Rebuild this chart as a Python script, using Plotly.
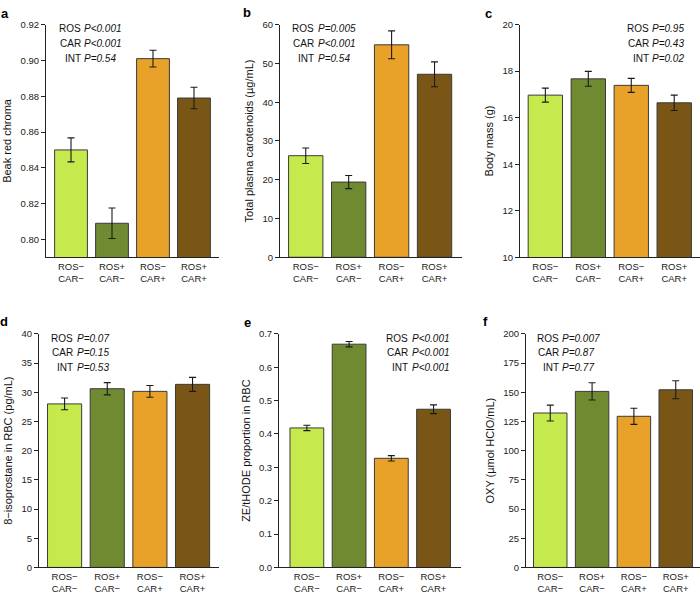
import plotly.graph_objects as go

W, H = 700, 595

categories = ["ROS−<br>CAR−", "ROS+<br>CAR−", "ROS−<br>CAR+", "ROS+<br>CAR+"]
bar_colors = ["#C6EA4E", "#6F8A31", "#E9A229", "#7A5616"]

# Panel data (means and SE)
beak_chroma = [0.850, 0.809, 0.901, 0.879]
beak_chroma_se = [0.0067, 0.0085, 0.0047, 0.0060]

plasma_carot = [26.2, 19.4, 54.8, 47.2]
plasma_carot_se = [2.0, 1.7, 3.6, 3.2]

body_mass = [16.97, 17.67, 17.39, 16.64]
body_mass_se = [0.30, 0.32, 0.30, 0.33]

isoprostane = [28.0, 30.6, 30.15, 31.35]
isoprostane_se = [1.0, 1.05, 1.0, 1.2]

ze_thode = [0.418, 0.669, 0.327, 0.474]
ze_thode_se = [0.008, 0.008, 0.008, 0.013]

oxy = [132.2, 150.7, 129.4, 152.1]
oxy_se = [6.8, 7.4, 6.9, 7.7]

panel_letters = ["a", "b", "c", "d", "e", "f"]
y_titles = ["Beak red chroma", "Total plasma carotenoids (µg/mL)", "Body mass (g)",
            "8−isoprostane in RBC (pg/mL)", "ZE/tHODE proportion in RBC", "OXY (µmol HClO/mL)"]
effect_names = ["ROS", "CAR", "INT"]
p_values = [
    ["P&lt;0.001", "P&lt;0.001", "P=0.54"],
    ["P=0.005", "P&lt;0.001", "P=0.54"],
    ["P=0.95", "P=0.43", "P=0.02"],
    ["P=0.07", "P=0.15", "P=0.53"],
    ["P&lt;0.001", "P&lt;0.001", "P&lt;0.001"],
    ["P=0.007", "P=0.87", "P=0.77"],
]
y_ranges = [[0.79, 0.92], [0, 60], [10, 20], [0, 40], [0, 0.7], [0, 200]]
y_dticks = [0.02, 10, 2, 5, 0.1, 25]
y_tick0 = [0.80, 0, 10, 0, 0, 0]
y_formats = [".2f", "d", "d", "d", ".1f", "d"]

values = [beak_chroma, plasma_carot, body_mass, isoprostane, ze_thode, oxy]
errors = [beak_chroma_se, plasma_carot_se, body_mass_se, isoprostane_se, ze_thode_se, oxy_se]

# layout geometry in pixels
x_dom_px = [(46, 219), (280, 462), (520, 700), (39, 219), (279, 461), (526, 700)]
y_dom_px = [(19, 256)] * 3 + [(334, 572)] * 3
x_ranges = [[-0.61, 3.61], [-0.6, 3.64], [-0.59, 3.6], [-0.6, 3.62], [-0.66, 3.65], [-0.58, 3.58]]
label_right_px = [80.5, 314, 648.5, 72.5, 408.5, 559]
p_left_px = [83.5, 317.5, 652, 76.5, 411.5, 562]
line_y_px = [[23.3, 38.3, 53.3]] * 3 + [[338.3, 353.3, 368.3]] * 3
letter_px = [(5, 8), (247, 7), (488.5, 8), (3.5, 321), (247, 322), (485, 321)]

FONT = "Liberation Sans, Arial, Helvetica, sans-serif"
AX = "#222222"

fig = go.Figure()
layout = dict(width=W, height=H, margin=dict(l=0, r=0, t=0, b=0),
              paper_bgcolor="white", plot_bgcolor="white", showlegend=False,
              font=dict(family=FONT, size=9, color="#222222"))
annotations = []

def px_x(p):
    return p / W

def px_y(p):
    return 1 - p / H

for i in range(6):
    n = "" if i == 0 else str(i + 1)
    fig.add_trace(go.Bar(
        x=categories, y=values[i],
        xaxis="x" + n, yaxis="y" + n,
        width=0.8,
        marker=dict(color=bar_colors, line=dict(color="#3a3a3a", width=1)),
        error_y=dict(type="data", array=errors[i], visible=True,
                     color="#1a1a1a", thickness=1.1, width=3.5),
        hoverinfo="skip",
    ))
    xd = [px_x(x_dom_px[i][0]), px_x(x_dom_px[i][1])]
    yd = [px_y(y_dom_px[i][1]), px_y(y_dom_px[i][0])]
    layout["xaxis" + n] = dict(
        domain=xd, anchor="y" + n, range=x_ranges[i],
        showline=True, linecolor=AX, linewidth=1, ticks="",
        showgrid=False, zeroline=False, tickfont=dict(size=9.5, color="#222"),
        fixedrange=True,
    )
    layout["yaxis" + n] = dict(
        domain=yd, anchor="x" + n, range=y_ranges[i],
        tick0=y_tick0[i], dtick=y_dticks[i], tickformat=y_formats[i],
        showline=True, linecolor=AX, linewidth=1, ticks="outside",
        ticklen=4, tickcolor=AX, showgrid=False, zeroline=False,
        tickfont=dict(size=9.5, color="#222"),
        title=dict(text=y_titles[i], font=dict(size=11, color="#111"), standoff=6),
        fixedrange=True,
    )
    for j in range(3):
        annotations.append(dict(
            xref="paper", yref="paper", x=px_x(label_right_px[i]), y=px_y(line_y_px[i][j]),
            xanchor="right", yanchor="middle", showarrow=False, borderpad=0, borderwidth=0,
            text=effect_names[j], font=dict(size=10, color="#111")))
        annotations.append(dict(
            xref="paper", yref="paper", x=px_x(p_left_px[i]), y=px_y(line_y_px[i][j]),
            xanchor="left", yanchor="middle", showarrow=False, borderpad=0, borderwidth=0,
            text="<i>" + p_values[i][j] + "</i>", font=dict(size=10, color="#111")))
    annotations.append(dict(
        xref="paper", yref="paper", x=px_x(letter_px[i][0]), y=px_y(letter_px[i][1]),
        xanchor="center", yanchor="middle", showarrow=False,
        text="<b>" + panel_letters[i] + "</b>", font=dict(size=13, color="#000")))

layout["annotations"] = annotations
fig.update_layout(**layout)
fig.write_html("out.html", config={"displayModeBar": False},
               post_script="document.body.style.margin='0';document.body.style.overflow='hidden';")
